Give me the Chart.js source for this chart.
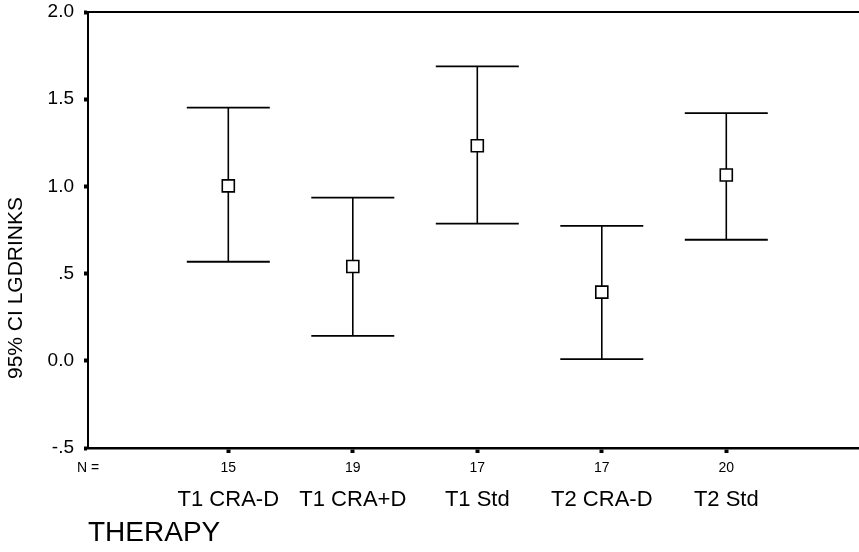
<!DOCTYPE html>
<html>
<head>
<meta charset="utf-8">
<script src="https://cdn.jsdelivr.net/npm/chart.js@4/dist/chart.umd.min.js"></script>
<style>
  html, body { margin: 0; padding: 0; background: #fff; overflow: hidden; }
  #wrap { width: 859px; height: 552px; position: relative; }
  canvas { display: block; }
</style>
</head>
<body>
<div id="wrap"><canvas id="c" width="859" height="552"></canvas></div>
<script>
// ---- Data ----
const categories = ["T1 CRA-D", "T1 CRA+D", "T1 Std", "T2 CRA-D", "T2 Std"];
const groupN = ["15", "19", "17", "17", "20"];
const means = [1.003, 0.541, 1.233, 0.394, 1.065];
const lowerCI = [0.568, 0.143, 0.786, 0.010, 0.694];
const upperCI = [1.452, 0.936, 1.688, 0.774, 1.420];
const yTickValues = [-0.5, 0.0, 0.5, 1.0, 1.5, 2.0];
const yTickLabels = ["-.5", "0.0", ".5", "1.0", "1.5", "2.0"];
const nLabel = "N =";
const yTitle = "95% CI LGDRINKS";
const xTitle = "THERAPY";

const FONT = "'Liberation Sans', Arial, Helvetica, sans-serif";
const X_MIN = -0.127, X_MAX = 6.066;
const positions = categories.map((_, i) => i + 1);

function noPad(s) { s.paddingTop = 0; s.paddingBottom = 0; s.paddingLeft = 0; s.paddingRight = 0; }

const errorBarPlugin = {
  id: 'errorBars',
  beforeDatasetsDraw(chart) {
    const {ctx, scales: {x, y}} = chart;
    ctx.save();
    ctx.strokeStyle = '#000';
    ctx.lineCap = 'butt';
    positions.forEach((p, i) => {
      const px = x.getPixelForValue(p);
      const yl = y.getPixelForValue(lowerCI[i]);
      const yu = y.getPixelForValue(upperCI[i]);
      const half = 41.5;
      ctx.lineWidth = 1.6;
      ctx.beginPath();
      ctx.moveTo(px, yl); ctx.lineTo(px, yu);
      ctx.stroke();
      ctx.lineWidth = 1.8;
      ctx.beginPath();
      ctx.moveTo(px - half, yu); ctx.lineTo(px + half, yu);
      ctx.moveTo(px - half, yl); ctx.lineTo(px + half, yl);
      ctx.stroke();
    });
    ctx.restore();
  }
};

const yTitlePlugin = {
  id: 'yTitleText',
  afterDraw(chart) {
    const ctx = chart.ctx;
    ctx.save();
    ctx.translate(16, 288);
    ctx.rotate(-Math.PI / 2);
    ctx.fillStyle = '#000';
    ctx.font = "21px " + FONT;
    ctx.textAlign = 'center';
    ctx.textBaseline = 'middle';
    ctx.fillText(yTitle, 0, 0);
    ctx.restore();
  }
};

new Chart(document.getElementById('c'), {
  type: 'scatter',
  data: {
    datasets: [{
      data: means.map((m, i) => ({x: positions[i], y: m})),
      pointStyle: 'rect',
      pointRadius: 8.5,
      pointHoverRadius: 8.5,
      pointBorderWidth: 1.6,
      pointBorderColor: '#000',
      pointBackgroundColor: '#fff'
    }]
  },
  options: {
    responsive: false,
    animation: false,
    events: [],
    layout: { autoPadding: false, padding: { top: 12, right: 0, bottom: 0, left: 0 } },
    plugins: { legend: { display: false }, tooltip: { enabled: false }, title: { display: false } },
    scales: {
      y: {
        type: 'linear',
        position: 'left',
        min: -0.5, max: 2.0,
        afterBuildTicks: s => { s.ticks = yTickValues.map(v => ({value: v})); },
        afterFit: s => { s.width = 88; noPad(s); },
        ticks: {
          callback: (v, i) => yTickLabels[i],
          color: '#000',
          padding: 10,
          font: { family: FONT, size: 19 }
        },
        grid: { drawOnChartArea: false, drawTicks: true, tickLength: 4, tickWidth: 4, tickColor: '#000' },
        border: { display: true, color: '#000', width: 2 },
        title: { display: false }
      },
      x: {
        type: 'linear',
        position: 'bottom',
        weight: 1,
        min: X_MIN, max: X_MAX,
        afterBuildTicks: s => { s.ticks = [{value: X_MIN}].concat(positions.map(p => ({value: p}))); },
        afterFit: s => { s.height = 28; noPad(s); },
        ticks: {
          callback: (v, i) => i === 0 ? nLabel : groupN[i - 1],
          color: '#000',
          padding: 7,
          maxRotation: 0, minRotation: 0, autoSkip: false,
          font: { family: FONT, size: 14 }
        },
        grid: {
          drawOnChartArea: false, drawTicks: true, tickLength: 5, tickWidth: 4,
          tickColor: c => (c.index === 0 ? 'rgba(0,0,0,0)' : '#000')
        },
        border: { display: true, color: '#000', width: 2.5 }
      },
      xCat: {
        type: 'linear',
        position: 'bottom',
        weight: 2,
        min: X_MIN, max: X_MAX,
        afterBuildTicks: s => { s.ticks = positions.map(p => ({value: p})); },
        afterFit: s => { s.height = 76; noPad(s); },
        ticks: {
          callback: (v, i) => categories[i],
          color: '#000',
          padding: 11,
          maxRotation: 0, minRotation: 0, autoSkip: false,
          font: { family: FONT, size: 22 }
        },
        grid: { display: false, drawTicks: false },
        border: { display: false },
        title: {
          display: true,
          text: xTitle,
          align: 'start',
          color: '#000',
          font: { family: FONT, size: 28 },
          padding: { top: 0, bottom: 2 }
        }
      },
      xTop: {
        type: 'linear',
        position: 'top',
        min: X_MIN, max: X_MAX,
        afterFit: s => { s.height = 0; noPad(s); },
        ticks: { display: false },
        grid: { display: false, drawTicks: false },
        border: { display: true, color: '#000', width: 2 }
      }
    }
  },
  plugins: [errorBarPlugin, yTitlePlugin]
});
</script>
</body>
</html>
